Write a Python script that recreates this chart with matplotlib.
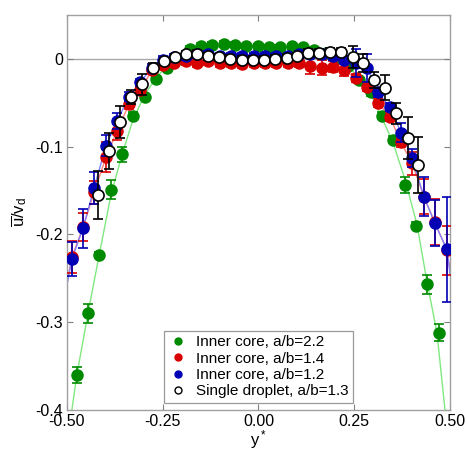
import matplotlib
matplotlib.use('Agg')
import matplotlib.pyplot as plt

plt.rcParams['font.family'] = ['Liberation Sans', 'DejaVu Sans']
plt.rcParams['mathtext.fontset'] = 'custom'
plt.rcParams['mathtext.rm'] = 'Liberation Sans'
plt.rcParams['mathtext.it'] = 'Liberation Sans'

# Inner core, a/b=2.2
green_x = [-0.474, -0.445, -0.416, -0.385, -0.356, -0.328, -0.297, -0.268, -0.239, -0.210,
           -0.179, -0.150, -0.121, -0.090, -0.061, -0.033, -0.001, 0.027, 0.056, 0.087,
           0.116, 0.145, 0.176, 0.205, 0.234, 0.262, 0.294, 0.322, 0.351, 0.383,
           0.411, 0.440, 0.471]
green_y = [-0.360, -0.290, -0.223, -0.149, -0.109, -0.065, -0.044, -0.023, -0.010, 0.000,
           0.011, 0.015, 0.016, 0.017, 0.016, 0.014, 0.014, 0.013, 0.013, 0.014,
           0.013, 0.010, 0.007, 0.001, -0.008, -0.024, -0.038, -0.065, -0.092, -0.144,
           -0.190, -0.257, -0.312]
green_err = [0.009, 0.011, 0.003, 0.011, 0.008, 0.004, 0.003, 0.003, 0.003, 0.003,
             0.003, 0.003, 0.003, 0.003, 0.003, 0.003, 0.003, 0.003, 0.003, 0.003,
             0.003, 0.003, 0.003, 0.003, 0.003, 0.003, 0.004, 0.004, 0.004, 0.009,
             0.004, 0.011, 0.010]
# fitted curve for a/b=2.2
green_fit_x = [-0.487, -0.474, -0.445, -0.416, -0.385, -0.356, -0.328, -0.297, -0.268, -0.239,
               -0.210, -0.179, -0.121, -0.059, -0.001, 0.059, 0.116, 0.176, 0.205, 0.234,
               0.262, 0.294, 0.322, 0.351, 0.383, 0.414, 0.440, 0.466, 0.487]
green_fit_y = [-0.400, -0.360, -0.290, -0.224, -0.155, -0.109, -0.070, -0.041, -0.022, -0.008,
               0.002, 0.008, 0.013, 0.014, 0.014, 0.014, 0.013, 0.007, 0.001, -0.008,
               -0.022, -0.041, -0.067, -0.095, -0.138, -0.189, -0.254, -0.312, -0.400]

# shared grid for a/b=1.4 and a/b=1.2
core_x = [-0.487, -0.458, -0.429, -0.398, -0.369, -0.338, -0.309, -0.278, -0.249, -0.221,
          -0.190, -0.161, -0.132, -0.101, -0.072, -0.043, -0.012, 0.017, 0.046, 0.077,
          0.106, 0.134, 0.166, 0.195, 0.223, 0.255, 0.283, 0.312, 0.343, 0.372,
          0.401, 0.432, 0.460, 0.492]

# Inner core, a/b=1.4
red_y = [-0.226, -0.192, -0.152, -0.112, -0.082, -0.052, -0.036, -0.013, -0.007, -0.005,
         -0.003, -0.005, -0.003, -0.005, -0.005, -0.006, -0.005, -0.005, -0.005, -0.005,
         -0.005, -0.008, -0.010, -0.009, -0.013, -0.022, -0.032, -0.050, -0.066, -0.095,
         -0.119, -0.157, -0.186, -0.218]
red_err = [0.018, 0.016, 0.013, 0.017, 0.010, 0.005, 0.004, 0.004, 0.004, 0.004,
           0.004, 0.004, 0.004, 0.004, 0.004, 0.004, 0.004, 0.004, 0.004, 0.004,
           0.004, 0.009, 0.009, 0.006, 0.007, 0.005, 0.005, 0.005, 0.005, 0.005,
           0.013, 0.020, 0.026, 0.028]

# Inner core, a/b=1.2
blue_y = [-0.228, -0.193, -0.147, -0.099, -0.071, -0.043, -0.027, -0.010, -0.001, 0.002,
          0.003, 0.005, 0.005, 0.003, 0.003, 0.003, 0.003, 0.003, 0.003, 0.003,
          0.005, 0.005, 0.005, 0.003, -0.001, -0.005, -0.010, -0.038, -0.055, -0.084,
          -0.113, -0.157, -0.187, -0.217]
blue_err = [0.019, 0.022, 0.018, 0.012, 0.009, 0.005, 0.004, 0.004, 0.004, 0.004,
            0.004, 0.004, 0.004, 0.004, 0.004, 0.004, 0.004, 0.004, 0.004, 0.004,
            0.004, 0.004, 0.004, 0.004, 0.004, 0.016, 0.016, 0.005, 0.005, 0.011,
            0.010, 0.022, 0.026, 0.060]

# line ends at the axis edges
red_edge_y = [-0.255, -0.240]
blue_edge_y = [-0.258, -0.245]

# Single droplet, a/b=1.3
white_x = [-0.419, -0.390, -0.362, -0.333, -0.304, -0.275, -0.247, -0.218, -0.189, -0.161,
           -0.132, -0.103, -0.074, -0.043, -0.014, 0.014, 0.043, 0.074, 0.101, 0.129,
           0.158, 0.187, 0.215, 0.247, 0.273, 0.302, 0.330, 0.359, 0.390, 0.417]
white_y = [-0.155, -0.105, -0.072, -0.043, -0.029, -0.010, -0.003, 0.002, 0.005, 0.006,
           0.003, 0.002, 0.000, -0.001, -0.001, -0.001, 0.000, 0.001, 0.003, 0.007,
           0.007, 0.008, 0.008, 0.002, -0.005, -0.024, -0.033, -0.062, -0.090, -0.121]
white_err = [0.027, 0.020, 0.018, 0.008, 0.012, 0.005, 0.004, 0.004, 0.004, 0.004,
             0.004, 0.004, 0.004, 0.004, 0.004, 0.004, 0.004, 0.004, 0.004, 0.004,
             0.004, 0.004, 0.004, 0.012, 0.010, 0.009, 0.014, 0.012, 0.024, 0.032]

labels = ['Inner core, a/b=2.2', 'Inner core, a/b=1.4',
          'Inner core, a/b=1.2', 'Single droplet, a/b=1.3']

x_ticks = [-0.5, -0.25, 0.0, 0.25, 0.5]
x_ticklabels = ['-0.50', '-0.25', '0.00', '0.25', '0.50']
y_ticks = [-0.4, -0.3, -0.2, -0.1, 0.0]
y_ticklabels = ['-0.4', '-0.3', '-0.2', '-0.1', '0']

GREEN = '#008a00'
RED = '#d80000'
BLUE = '#0000b4'

fig = plt.figure(figsize=(4.68, 4.51), dpi=100)
ax = fig.add_axes([0.143, 0.091, 0.8185, 0.876])

ax.axhline(0, color='#a8a8a8', linewidth=1.0, zorder=0)

# fit / guide lines
ax.plot(green_fit_x, green_fit_y, color='#80e880', linewidth=1.0, zorder=1)
ax.plot([-0.5] + core_x + [0.5], [red_edge_y[0]] + red_y + [red_edge_y[1]],
        color='#ff8080', linewidth=1.0, zorder=1)
ax.plot([-0.5] + core_x + [0.5], [blue_edge_y[0]] + blue_y + [blue_edge_y[1]],
        color='#8080ff', linewidth=1.0, zorder=1)

common = dict(fmt='o', markersize=8, capsize=3.3, elinewidth=1.2, capthick=1.2)
ax.errorbar(green_x, green_y, yerr=green_err, color=GREEN, mec=GREEN, zorder=2, **common)
ax.errorbar(core_x, red_y, yerr=red_err, color=RED, mec=RED, zorder=3, **common)
ax.errorbar(core_x, blue_y, yerr=blue_err, color=BLUE, mec=BLUE, zorder=4, **common)
ax.errorbar(white_x, white_y, yerr=white_err, color='black', mfc='white', mec='black',
            mew=1.2, zorder=5, **common)

# legend handles
h = []
h.append(ax.plot([], [], 'o', color=GREEN, markersize=5)[0])
h.append(ax.plot([], [], 'o', color=RED, markersize=5)[0])
h.append(ax.plot([], [], 'o', color=BLUE, markersize=5)[0])
h.append(ax.plot([], [], 'o', mfc='white', mec='black', markersize=5, mew=1.0)[0])
leg = ax.legend(h, labels, loc='lower center', bbox_to_anchor=(0.5, 0.01),
                fontsize=11, frameon=True, fancybox=False, labelspacing=0.15,
                handlelength=1.2, handletextpad=0.6, borderpad=0.3, borderaxespad=0.2)
leg.get_frame().set_edgecolor('#808080')
leg.get_frame().set_linewidth(0.9)

ax.set_xlim(-0.5, 0.5)
ax.set_ylim(-0.4, 0.05)
ax.set_xticks(x_ticks)
ax.set_xticklabels(x_ticklabels)
ax.set_yticks(y_ticks)
ax.set_yticklabels(y_ticklabels)
ax.tick_params(direction='in', length=4, color='#808080', labelsize=11.5,
               top=True, right=True, pad=3)
for s in ax.spines.values():
    s.set_color('#a0a0a0')
    s.set_linewidth(1.0)

ax.set_xlabel(r'y$^*$', fontsize=12, labelpad=-1)
ax.set_ylabel(r'$\overline{\mathrm{u}}/\mathrm{v}_\mathrm{d}$', fontsize=12, labelpad=4)

fig.savefig('out.png', dpi=100)
